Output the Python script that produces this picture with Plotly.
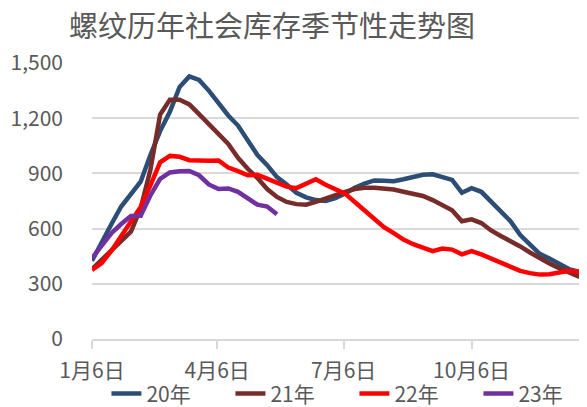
import datetime as dt
import plotly.graph_objects as go

# ---- data ----
start = dt.date(2021, 1, 6)
weeks = [(start + dt.timedelta(days=7 * k)).isoformat() for k in range(52)]

y20 = [425, 530, 625, 720, 790, 855, 1000, 1130, 1235, 1370, 1427, 1408, 1350, 1285,
       1215, 1160, 1080, 1000, 945, 880, 840, 795, 770, 755, 750, 765, 790, 822, 845,
       862, 860, 858, 868, 880, 893, 895, 882, 865, 795, 820, 800, 748, 690, 640, 565,
       510, 463, 437, 410, 380, 365, 348]
y21 = [380, 430, 483, 530, 583, 710, 920, 1220, 1300, 1300, 1275, 1222, 1165, 1110,
       1060, 985, 925, 875, 815, 772, 745, 733, 730, 745, 765, 780, 800, 815, 822, 822,
       820, 812, 800, 790, 777, 755, 727, 700, 640, 650, 630, 590, 560, 533, 503, 470,
       437, 410, 385, 362, 340, 340]
y22 = [375, 413, 480, 560, 645, 718, 835, 960, 995, 990, 972, 969, 969, 970, 932, 912,
       890, 892, 870, 845, 828, 820, 845, 868, 838, 815, 790, 745, 700, 650, 608, 575,
       540, 515, 497, 478, 492, 486, 460, 477, 460, 438, 418, 390, 370, 358, 350, 352,
       362, 371, 365, 392]
y23 = [440, 510, 575, 625, 668, 670, 780, 870, 905, 912, 913, 890, 840, 815, 818, 800,
       765, 730, 720, 678]

series_names = ["20年", "21年", "22年", "23年"]
series_values = [y20, y21, y22, y23]
series_colors = ["#2C4D75", "#772C2A", "#FF0000", "#7030A0"]

tick_dates = ["2021-01-06", "2021-04-06", "2021-07-06", "2021-10-06"]
tick_labels = ["1月6日", "4月6日", "7月6日", "10月6日"]
y_ticks = [0, 300, 600, 900, 1200, 1500]
y_tick_labels = ["0", "300", "600", "900", "1,200", "1,500"]

FONT = "Noto Sans CJK SC"
GRAY = "#595959"

fig = go.Figure()
for name, vals, col in zip(series_names, series_values, series_colors):
    fig.add_trace(go.Scatter(
        x=weeks[:len(vals)], y=vals, name=name, mode="lines",
        line=dict(color=col, width=4.5),
    ))

# page body has an 8px margin, so the figure is sized to the visible area
fig.update_layout(
    width=579, height=399,
    margin=dict(l=84, r=0, t=55, b=68, autoexpand=False),
    paper_bgcolor="white", plot_bgcolor="white",
    font=dict(family=FONT, color=GRAY, size=21),
    title=dict(text="螺纹历年社会库存季节性走势图", x=0.456, xanchor="center",
               xref="container", y=0.953, yanchor="middle", yref="container",
               font=dict(size=29, color=GRAY, family=FONT)),
    showlegend=True,
    legend=dict(orientation="h", xref="container", yref="container",
                x=0.170, xanchor="left", y=0.033, yanchor="middle",
                entrywidth=79, entrywidthmode="pixels",
                font=dict(size=21, color=GRAY, family=FONT),
                bgcolor="rgba(0,0,0,0)"),
)

fig.update_xaxes(
    type="date", range=["2021-01-06", "2021-12-28"],
    tickvals=tick_dates, ticktext=tick_labels,
    showgrid=False, showline=True, linecolor="#D9D9D9", linewidth=1.5,
    ticks="outside", ticklen=8, tickcolor="#D9D9D9", tickwidth=1.5,
    tickfont=dict(size=21, color=GRAY, family=FONT),
    ticklabelstandoff=4,
    zeroline=False,
)
fig.update_yaxes(
    range=[0, 1500], tickvals=y_ticks, ticktext=y_tick_labels,
    showgrid=True, gridcolor="#D9D9D9", gridwidth=1.5,
    zeroline=False, showline=False,
    tickfont=dict(size=21, color=GRAY, family=FONT),
    ticklabelstandoff=28,
)

fig.write_html("out.html")
